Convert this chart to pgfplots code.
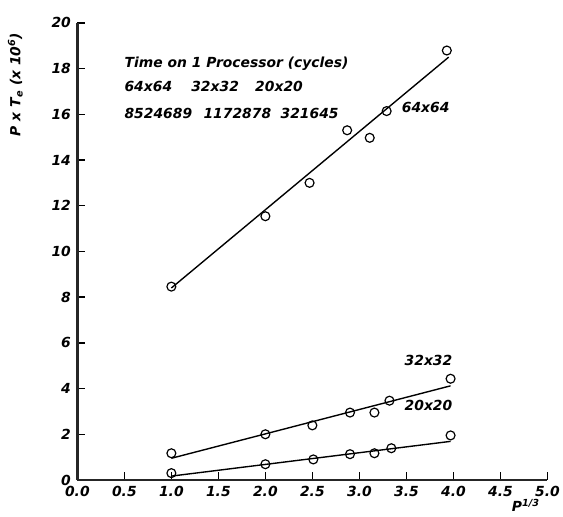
\documentclass[border=0pt]{standalone}
\usepackage{fontspec}
\setmainfont{DejaVu Sans}
\usepackage{pgfplots}
\pgfplotsset{compat=1.18}
\newcommand{\lf}{\fontsize{14}{16}\selectfont\bfseries\itshape}
\begin{document}
\begin{tikzpicture}
\begin{axis}[
  scale only axis,
  width=474pt, height=461pt,
  xmin=0, xmax=5, ymin=0, ymax=20,
  axis x line*=bottom, axis y line*=left,
  axis line style={line width=2.8pt, -, black!85},
  xtick={0,0.5,...,5}, ytick={0,2,...,20},
  tick align=inside,
  major tick length=8pt,
  every tick/.style={black, line width=1.5pt},
  xticklabel style={/pgf/number format/fixed, /pgf/number format/fixed zerofill, /pgf/number format/precision=1, yshift=-3pt},
  yticklabel style={xshift=-3pt},
  /pgf/number format/assume math mode=true,
  tick label style={font=\lf},
  clip=false,
]
\path (rel axis cs:-0.1646,-0.080) rectangle (rel axis cs:1.023,1.05);
% fitted lines
\addplot[black, line width=1.4pt] coordinates {(1.0,8.4) (3.95,18.5)};
\addplot[black, line width=1.4pt] coordinates {(1.0,0.95) (3.97,4.12)};
\addplot[black, line width=1.4pt] coordinates {(1.0,0.17) (3.97,1.69)};
% data points
\addplot[only marks, mark=o, mark size=4.5pt, line width=1.2pt] coordinates {
 (1.0,8.46) (2.0,11.54) (2.47,13.0) (2.87,15.3) (3.11,14.97) (3.29,16.14) (3.93,18.79)};
\addplot[only marks, mark=o, mark size=4.5pt, line width=1.2pt] coordinates {
 (1.0,1.17) (2.0,2.0) (2.5,2.39) (2.9,2.95) (3.16,2.95) (3.32,3.47) (3.97,4.43)};
\addplot[only marks, mark=o, mark size=4.5pt, line width=1.2pt] coordinates {
 (1.0,0.30) (2.0,0.69) (2.51,0.9) (2.9,1.13) (3.16,1.17) (3.34,1.39) (3.97,1.95)};
% annotations
\begin{scope}[every node/.style={font=\lf, inner sep=0pt}]
\node[anchor=west] at (axis cs:0.50,18.22) {Time on 1 Processor (cycles)};
\node[anchor=west] at (axis cs:0.50,17.22) {64x64};
\node[anchor=west] at (axis cs:1.21,17.22) {32x32};
\node[anchor=west] at (axis cs:1.89,17.22) {20x20};
\node[anchor=west] at (axis cs:0.50,16.05) {8524689};
\node[anchor=west] at (axis cs:1.34,16.05) {1172878};
\node[anchor=west] at (axis cs:2.16,16.05) {321645};
\node[anchor=west] at (axis cs:3.45,16.31) {64x64};
\node[anchor=west] at (axis cs:3.48,5.25) {32x32};
\node[anchor=west] at (axis cs:3.48,3.25) {20x20};
\node at (axis cs:4.77,-1.12) {P\textsuperscript{1/3}};
\node[rotate=90] at (axis cs:-0.66,17.3) {P x T\textsubscript{e} (x 10\textsuperscript{6})};
\end{scope}
\end{axis}
\end{tikzpicture}
\end{document}
